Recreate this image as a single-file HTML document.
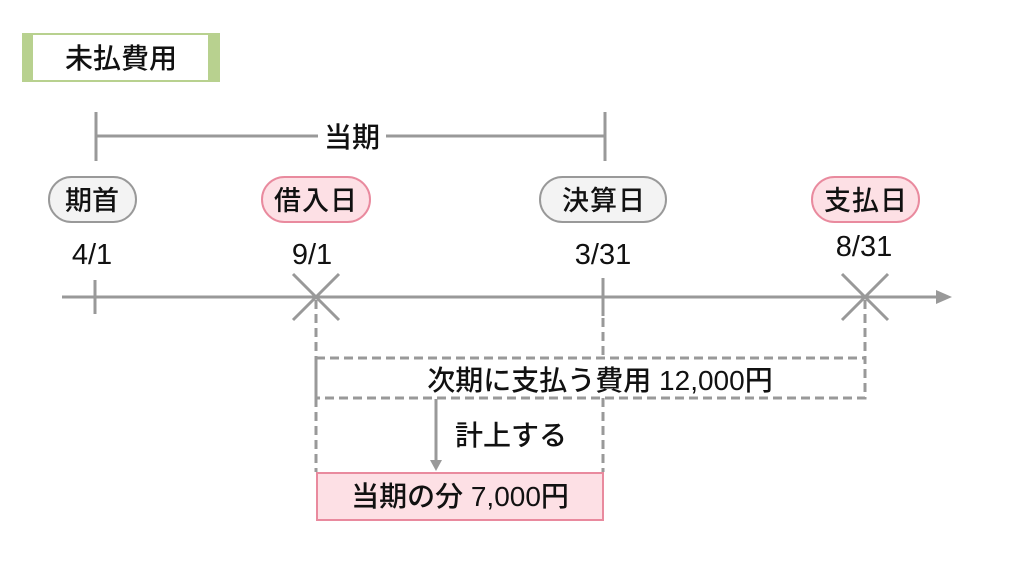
<!DOCTYPE html>
<html><head><meta charset="utf-8"><style>
html,body{margin:0;padding:0;background:#fff;}
svg{display:block;}
text{font-family:"Liberation Sans","Noto Sans CJK JP",sans-serif;fill:#111;font-weight:500;}
</style></head><body>
<svg width="1024" height="576" viewBox="0 0 1024 576" xmlns="http://www.w3.org/2000/svg">
<!-- title -->
<rect x="22" y="33" width="198" height="49" fill="#b8d18f"/>
<rect x="33" y="35" width="175" height="45" fill="#fff"/>
<text x="121" y="68" font-size="28" text-anchor="middle">未払費用</text>
<!-- period bracket -->
<g stroke="#999" stroke-width="3" fill="none">
<line x1="96" y1="112" x2="96" y2="161"/>
<line x1="605" y1="112" x2="605" y2="161"/>
<line x1="96" y1="136" x2="318" y2="136"/>
<line x1="386" y1="136" x2="605" y2="136"/>
</g>
<text x="352" y="147" font-size="28" text-anchor="middle">当期</text>
<!-- pills -->
<rect x="49" y="177" width="87" height="45" rx="22.5" fill="#f3f3f3" stroke="#999" stroke-width="2"/>
<text x="92" y="210" font-size="27" text-anchor="middle">期首</text>
<rect x="262" y="177" width="108" height="45" rx="22.5" fill="#fde0e5" stroke="#e98a9e" stroke-width="2"/>
<text x="316" y="210" font-size="27" text-anchor="middle" letter-spacing="1">借入日</text>
<rect x="540" y="177" width="126" height="45" rx="22.5" fill="#f3f3f3" stroke="#999" stroke-width="2"/>
<text x="604" y="210" font-size="27" text-anchor="middle" letter-spacing="1">決算日</text>
<rect x="812" y="177" width="107" height="45" rx="22.5" fill="#fde0e5" stroke="#e98a9e" stroke-width="2"/>
<text x="866" y="210" font-size="27" text-anchor="middle" letter-spacing="1">支払日</text>
<!-- dates -->
<text x="92" y="264" font-size="29" text-anchor="middle">4/1</text>
<text x="312" y="264" font-size="29" text-anchor="middle">9/1</text>
<text x="603" y="264" font-size="29" text-anchor="middle">3/31</text>
<text x="864" y="256" font-size="29" text-anchor="middle">8/31</text>
<!-- axis -->
<g stroke="#999" stroke-width="3" fill="none">
<line x1="62" y1="297" x2="940" y2="297"/>
<line x1="95" y1="280" x2="95" y2="314"/>
<line x1="603" y1="278" x2="603" y2="316"/>
<line x1="293" y1="274" x2="339" y2="320"/>
<line x1="339" y1="274" x2="293" y2="320"/>
<line x1="842" y1="274" x2="888" y2="320"/>
<line x1="888" y1="274" x2="842" y2="320"/>
</g>
<polygon points="936,290 952,297 936,304" fill="#999"/>
<!-- dashed -->
<g stroke="#999" stroke-width="3" fill="none" stroke-dasharray="9,5">
<line x1="316" y1="300" x2="316" y2="472"/>
<line x1="603" y1="318" x2="603" y2="358"/>
<line x1="603" y1="398" x2="603" y2="472"/>
<line x1="865" y1="300" x2="865" y2="358"/>
<rect x="316" y="358" width="549" height="40"/>
</g>
<text x="600" y="390" font-size="28" text-anchor="middle">次期に支払う費用 12,000円</text>
<!-- arrow -->
<line x1="436" y1="399" x2="436" y2="462" stroke="#999" stroke-width="3"/>
<polygon points="430,460 442,460 436,471" fill="#999"/>
<text x="511" y="445" font-size="28" text-anchor="middle">計上する</text>
<!-- result box -->
<rect x="317" y="473" width="286" height="47" fill="#fde0e5" stroke="#e98a9e" stroke-width="2"/>
<text x="460" y="506" font-size="28" text-anchor="middle">当期の分 7,000円</text>
</svg>
</body></html>
